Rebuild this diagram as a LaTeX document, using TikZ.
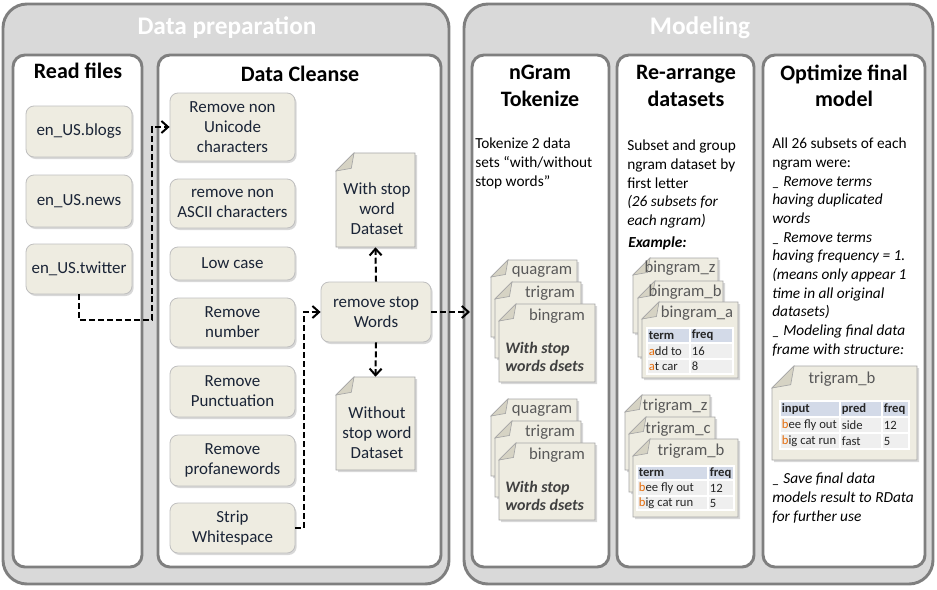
\documentclass[tikz,border=0pt]{standalone}
\usepackage{fontspec}
\setmainfont{Carlito}
\usetikzlibrary{arrows.meta,shadows,fit,calc}
\definecolor{panelfill}{HTML}{D9D9D9}
\definecolor{panelline}{HTML}{7F7F7F}
\definecolor{boxfill}{HTML}{EEECE1}
\definecolor{boxline}{HTML}{BFBFBF}
\definecolor{docline}{HTML}{A6A6A6}
\definecolor{foldfill}{HTML}{D6D3C4}
\definecolor{boxtext}{HTML}{1A2436}
\definecolor{doclabel}{HTML}{595959}
\definecolor{hdrfill}{HTML}{D3DAE8}
\definecolor{rowfill}{HTML}{EFEFEF}
\definecolor{firstletter}{HTML}{E46C0A}
\newcommand\fs[2]{\fontsize{#1}{#2}\selectfont}
\newcommand\docat[6]{%
  \filldraw[docpath] (#2+#6,#3) -- (#4,#3) -- (#4,#5) -- (#2,#5) -- (#2,#3+#6) -- cycle;
  \filldraw[foldpath] (#2,#3+#6) -- (#2+#6,#3) -- (#2+0.85*#6,#3+0.85*#6) -- cycle;
  \node[fit={(#2,#3)(#4,#5)},inner sep=0pt] (#1) {};}
\newcommand\cell[7]{%
  \node[cellbox,fill=#6,fit={(#2,#3)(#4,#5)}] (#1) {};
  \node[celltext] (#1x) at ([xshift=1.6pt]#1.west) {#7};}
\newcommand\fl[1]{\textcolor{firstletter}{#1}}
\begin{document}
\begin{tikzpicture}[x=0.75pt,y=-0.75pt,
  outerpanel/.style={fill=panelfill,draw=panelline,line width=2.2pt,rounded corners=18pt,inner sep=0pt},
  innerpanel/.style={fill=white,draw=panelline,line width=2.2pt,rounded corners=9pt,inner sep=0pt},
  outertitle/.style={text=white,font=\bfseries\fs{19}{23}},
  innertitle/.style={text=black,font=\bfseries\fs{16.5}{20},align=center},
  proc/.style={draw=boxline,fill=boxfill,line width=0.6pt,rounded corners=6pt,align=center,
    text=boxtext,font=\fs{12.7}{15},inner sep=1pt,
    drop shadow={shadow xshift=1.2pt,shadow yshift=-1.5pt,opacity=0.3}},
  wh/.style 2 args={minimum width=#1*0.75pt,minimum height=#2*0.75pt},
  docpath/.style={fill=boxfill,draw=docline,line width=0.6pt,
    drop shadow={shadow xshift=1.5pt,shadow yshift=-1.5pt,opacity=0.3}},
  foldpath/.style={fill=foldfill,draw=docline,line width=0.5pt},
  doctext/.style={align=center,text=boxtext,font=\fs{12.7}{15}},
  doclab/.style={text=doclabel,font=\fs{12.5}{15},inner sep=0pt},
  bodytext/.style={align=left,anchor=north west,inner sep=0pt,text=black,font=\fs{11.5}{14}},
  dsetstext/.style={align=left,anchor=west,inner sep=0pt,text=black!75,font=\bfseries\itshape\fs{12}{13.5}},
  cellbox/.style={draw=white,line width=0.8pt,inner sep=0pt},
  celltext/.style={anchor=west,inner sep=0pt,text=black!85,font=\fs{9.5}{11}},
  flow/.style={draw=black,line width=1.5pt,dash pattern=on 4.5pt off 2.2pt,
    -{Straight Barb[length=5pt,width=9pt]}}]
\useasboundingbox (0,0) rectangle (937,589);

% outer panels
\node[outerpanel,fit={(3,4)(449,584)}] (prep) {};
\node[outerpanel,fit={(464,4)(933,584)}] (model) {};
\node[outertitle] (preptitle) at (227,28) {Data preparation};
\node[outertitle] (modeltitle) at (700,28) {Modeling};

% inner panels
\node[innerpanel,fit={(13,55)(142,567)}] (readp) {};
\node[innerpanel,fit={(158,55)(441,567)}] (cleanp) {};
\node[innerpanel,fit={(472,55)(609,567)}] (ngramp) {};
\node[innerpanel,fit={(617,55)(754,567)}] (rearrp) {};
\node[innerpanel,fit={(763,55)(925,567)}] (optp) {};
\node[innertitle] (readtitle) at (78,71) {Read files};
\node[innertitle] (cleantitle) at (300,74) {Data Cleanse};
\node[innertitle] (ngramtitle) at (540,86) {nGram\\Tokenize};
\node[innertitle] (rearrtitle) at (686,86) {Re-arrange\\datasets};
\node[innertitle] (opttitle) at (844,86) {Optimize final\\model};

% read files
\node[proc,wh={106}{51}] (blogs) at (79,131.5) {en\_US.blogs};
\node[proc,wh={106}{52}] (news) at (79,201) {en\_US.news};
\node[proc,wh={106}{50}] (twitter) at (79,269) {en\_US.twitter};

% data cleanse
\node[proc,wh={125}{68}] (unicode) at (232.5,127) {Remove non\\Unicode\\characters};
\node[proc,wh={125}{49}] (ascii) at (232.5,203.5) {remove non\\ASCII characters};
\node[proc,wh={125}{33}] (lowcase) at (232.5,263.5) {Low case};
\node[proc,wh={125}{49}] (number) at (232.5,322.5) {Remove\\number};
\node[proc,wh={125}{51}] (punct) at (232.5,391.5) {Remove\\Punctuation};
\node[proc,wh={125}{51}] (profane) at (232.5,460.5) {Remove\\profanewords};
\node[proc,wh={125}{50}] (strip) at (232.5,528) {Strip\\Whitespace};
\node[proc,wh={110}{60}] (stopw) at (376,312) {remove stop\\Words};

\docat{withdoc}{336}{153}{415}{247}{18}
\node[doctext] (withdoctext) at (377,209) {With stop\\word\\Dataset};
\docat{withoutdoc}{336}{377}{415}{470}{18}
\node[doctext] (withoutdoctext) at (377,433) {Without\\stop word\\Dataset};

% connectors
\coordinate (c1) at (152,320);
\coordinate (c2) at (304,528);
\coordinate (c3) at (470,312);
\draw[flow] (twitter.south) |- (c1) |- (unicode.west);
\draw[flow] (strip.east) -- (c2) |- (stopw.west);
\draw[flow] (stopw.north) -- (withdoc.south);
\draw[flow] (stopw.south) -- (withoutdoc.north);
\draw[flow] (stopw.east) -- (c3);

% nGram tokenize
\node[bodytext] (ngramtext) at (475,138) {Tokenize 2 data\\sets “with/without\\stop words”};
\docat{q1}{491}{260}{577}{337}{17}
\node[doclab] (q1l) at (542,272) {quagram};
\docat{t1}{495}{282}{581}{358}{17}
\node[doclab] (t1l) at (550,293) {trigram};
\docat{b1}{499}{304}{595}{382}{17}
\node[doclab] (b1l) at (557,316) {bingram};
\node[dsetstext] (b1t) at (505,357) {With stop\\words dsets};
\docat{q2}{491}{399}{577}{476}{17}
\node[doclab] (q2l) at (542,411) {quagram};
\docat{t2}{495}{421}{581}{497}{17}
\node[doclab] (t2l) at (550,432) {trigram};
\docat{b2}{499}{443}{595}{520}{17}
\node[doclab] (b2l) at (557,455) {bingram};
\node[dsetstext] (b2t) at (505,496) {With stop\\words dsets};

% re-arrange
\node[bodytext] (rearrtext) at (627,140) {Subset and group\\ngram dataset by\\first letter\\\textit{(26 subsets for}\\\textit{each ngram)}};
\node[anchor=west,inner sep=0pt,font=\bfseries\itshape\fs{11.5}{14}] (example) at (628,243) {Example:};
\docat{bz}{633}{258}{718}{333}{17}
\node[doclab] (bzl) at (680,268) {bingram\_z};
\docat{bb}{638}{281}{723}{357}{17}
\node[doclab] (bbl) at (685,292) {bingram\_b};
\docat{ba}{642}{302}{738}{378}{17}
\node[doclab] (bal) at (697,313) {bingram\_a};
\cell{ba11}{647}{328}{690}{343}{hdrfill}{\textbf{term}}
\cell{ba12}{690}{328}{733}{343}{hdrfill}{\textbf{freq}}
\cell{ba21}{647}{343}{690}{359}{rowfill}{\fl{a}dd to}
\cell{ba22}{690}{343}{733}{359}{rowfill}{16}
\cell{ba31}{647}{359}{690}{374}{rowfill}{\fl{a}t car}
\cell{ba32}{690}{359}{733}{374}{rowfill}{8}

\docat{tz}{625}{395}{710}{470}{17}
\node[doclab] (tzl) at (675,406) {trigram\_z};
\docat{tc}{629}{417}{715}{492}{17}
\node[doclab] (tcl) at (678,429) {trigram\_c};
\docat{tb}{633}{439}{738}{517}{17}
\node[doclab] (tbl) at (691,451) {trigram\_b};
\cell{tb11}{637}{466}{708}{480}{hdrfill}{\textbf{term}}
\cell{tb12}{708}{466}{734}{480}{hdrfill}{\textbf{freq}}
\cell{tb21}{637}{480}{708}{496}{rowfill}{\fl{b}ee fly out}
\cell{tb22}{708}{480}{734}{496}{rowfill}{12}
\cell{tb31}{637}{496}{708}{510}{rowfill}{\fl{b}ig cat run}
\cell{tb32}{708}{496}{734}{510}{rowfill}{5}

% optimize
\node[bodytext] (opttext) at (772,138) {All 26 subsets of each\\ngram were:\\\textit{\_ Remove terms}\\\textit{having duplicated}\\\textit{words}\\\textit{\_ Remove terms}\\\textit{having frequency = 1.}\\\textit{(means only appear 1}\\\textit{time in all original}\\\textit{datasets)}\\\textit{\_ Modeling final data}\\\textit{frame with structure:}};
\docat{ob}{772}{366}{917}{460}{22}
\node[doclab] (obl) at (842,379) {trigram\_b};
\cell{ob11}{780}{401}{840}{417}{hdrfill}{\textbf{input}}
\cell{ob12}{840}{401}{882}{417}{hdrfill}{\textbf{pred}}
\cell{ob13}{882}{401}{909}{417}{hdrfill}{\textbf{freq}}
\cell{ob21}{780}{417}{840}{433}{rowfill}{\fl{b}ee fly out}
\cell{ob22}{840}{417}{882}{433}{rowfill}{side}
\cell{ob23}{882}{417}{909}{433}{rowfill}{12}
\cell{ob31}{780}{433}{840}{449}{rowfill}{\fl{b}ig cat run}
\cell{ob32}{840}{433}{882}{449}{rowfill}{fast}
\cell{ob33}{882}{433}{909}{449}{rowfill}{5}
\node[bodytext] (savetext) at (772,473) {\textit{\_ Save final data}\\\textit{models result to RData}\\\textit{for further use}};
\end{tikzpicture}
\end{document}
